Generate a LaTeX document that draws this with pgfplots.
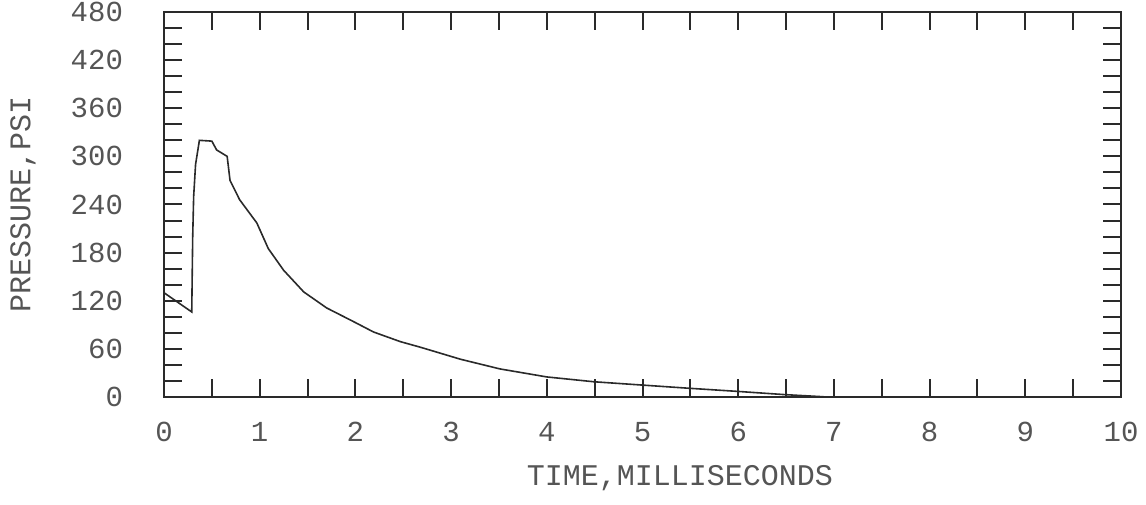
\documentclass[border=0pt]{standalone}
\usepackage{fontspec}
\setmainfont{Liberation Mono}
\usepackage{pgfplots}
\pgfplotsset{compat=1.18}

\definecolor{ink}{HTML}{2A2A2A}
\definecolor{txt}{HTML}{555555}

\begin{document}
\begin{tikzpicture}
  \begin{axis}[
    scale only axis,
    width=478.5pt, height=192.5pt,
    xmin=0, xmax=10, ymin=0, ymax=480,
    axis line style={ink, line width=1pt},
    xtick={0,1,...,10}, minor x tick num=1,
    ytick={0,60,...,480}, minor y tick num=2,
    tick align=inside, tick pos=both,
    xticklabel pos=bottom, yticklabel pos=left,
    major tick length=9pt, minor tick length=9pt,
    every tick/.style={ink, line width=1pt},
    /pgf/number format/assume math mode=true,
    ticklabel style={font=\fontsize{14.5}{15}\selectfont, text=txt},
    xticklabel style={yshift=-9pt},
    yticklabel style={xshift=-17pt},
    xlabel={TIME,MILLISECONDS},
    ylabel={PRESSURE,PSI},
    label style={font=\fontsize{15}{16}\selectfont, text=txt},
    xlabel style={at={(axis description cs:0.539,-0.2104)}, anchor=center},
    ylabel style={at={(axis description cs:-0.1473,0.5)}, anchor=center, rotate=0},
  ]
    % pressure trace
    \addplot[ink, line width=0.8pt, mark=none] coordinates {
      (0,130) (0.29,106) (0.30,200) (0.31,250) (0.33,290) (0.37,320)
      (0.50,319) (0.55,308) (0.66,300) (0.69,270) (0.79,246) (0.97,217)
      (1.09,185) (1.25,158) (1.46,131) (1.70,111) (1.98,94) (2.19,81)
      (2.47,69) (2.68,62) (3.10,47) (3.51,35) (4.00,25) (4.49,19)
      (4.98,15) (5.47,11) (5.99,7) (6.48,3) (6.86,0.5) (6.92,0)
    };
  \end{axis}
  \pgfresetboundingbox
  \path ([shift={(-82pt,-54pt)}]current axis.south west)
    rectangle ([shift={(12.5pt,6pt)}]current axis.north east);
\end{tikzpicture}
\end{document}
